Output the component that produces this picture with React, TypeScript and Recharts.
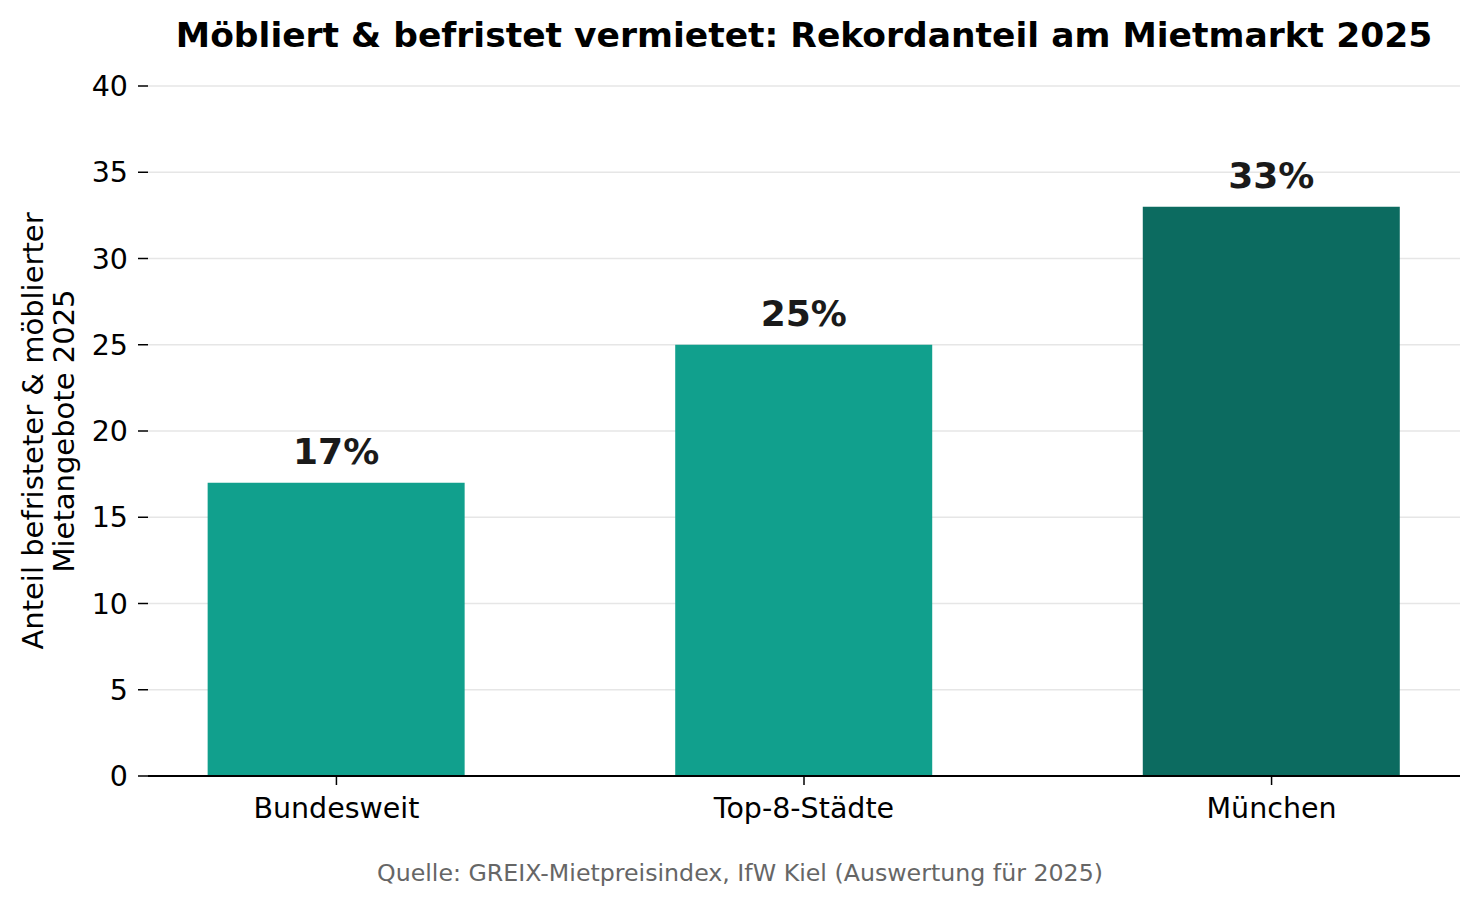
import { BarChart, Bar, XAxis, YAxis, CartesianGrid, Cell, LabelList } from "recharts";

const categories = ["Bundesweit", "Top-8-Städte", "München"];
const shares = [17, 25, 33];
const yTicks = [0, 5, 10, 15, 20, 25, 30, 35, 40];
const colors = ["#11a08d", "#11a08d", "#0c6b60"];

const data = categories.map((name, i) => ({ pos: i, name, value: shares[i] }));

const font = "'DejaVu Sans', sans-serif";

export default function App() {
  return (
    <div style={{ position: "absolute", left: 0, top: 0, width: 1480, height: 906, background: "#fff", fontFamily: font }}>
      <div
        style={{
          position: "absolute",
          left: 148,
          width: 1312,
          top: 15,
          textAlign: "center",
          fontWeight: "bold",
          fontSize: 34.5,
          color: "#000",
        }}
      >
        Möbliert &amp; befristet vermietet: Rekordanteil am Mietmarkt 2025
      </div>
      <BarChart
        width={1480}
        height={906}
        data={data}
        margin={{ top: 86, right: 20, bottom: 100, left: 0 }}
      >
        <CartesianGrid horizontal vertical={false} stroke="#e6e6e6" strokeWidth={1.5} />
        <XAxis
          dataKey="pos"
          type="number"
          domain={[-0.403, 2.403]}
          ticks={[0, 1, 2]}
          tickFormatter={(v: number) => categories[v]}
          height={30}
          tickSize={9}
          tickMargin={13}
          axisLine={{ stroke: "#000", strokeWidth: 1.8 }}
          tickLine={{ stroke: "#000", strokeWidth: 1.5 }}
          tick={{ fill: "#000", fontSize: 28.5, fontFamily: font }}
          allowDataOverflow
        />
        <YAxis
          domain={[0, 40]}
          ticks={yTicks}
          width={148}
          tickSize={10}
          tickMargin={10}
          axisLine={false}
          tickLine={{ stroke: "#000", strokeWidth: 1.5 }}
          tick={{ fill: "#000", fontSize: 28.5, fontFamily: font }}
          label={{
            content: () => (
              <text
                transform="translate(48, 431) rotate(-90)"
                textAnchor="middle"
                fontSize={29}
                fontFamily={font}
                fill="#000"
              >
                <tspan x={0} dy={-5}>Anteil befristeter &amp; möblierter</tspan>
                <tspan x={0} dy={31}>Mietangebote 2025</tspan>
              </text>
            ),
          }}
        />
        <Bar dataKey="value" barSize={257} isAnimationActive={false}>
          {data.map((d, i) => (
            <Cell key={d.name} fill={colors[i]} />
          ))}
          <LabelList
            dataKey="value"
            position="top"
            offset={19}
            formatter={(v: any) => `${v}%`}
            style={{ fontSize: 36, fontWeight: "bold", fill: "#1a1a1a", fontFamily: font }}
          />
        </Bar>
      </BarChart>
      <div
        style={{
          position: "absolute",
          left: 0,
          width: 1480,
          top: 859,
          textAlign: "center",
          fontSize: 23.7,
          color: "#666",
        }}
      >
        Quelle: GREIX-Mietpreisindex, IfW Kiel (Auswertung für 2025)
      </div>
    </div>
  );
}
